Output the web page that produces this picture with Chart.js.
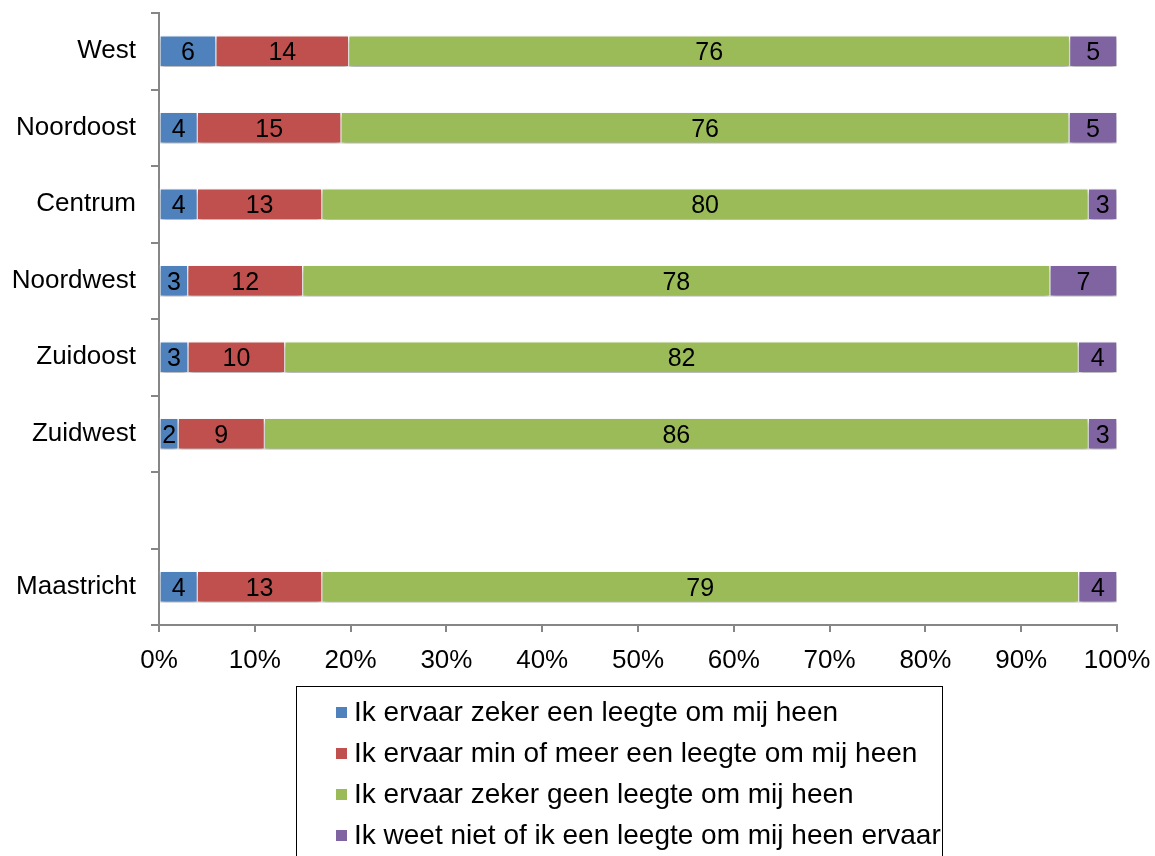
<!DOCTYPE html>
<html>
<head>
<meta charset="utf-8">
<script src="https://cdn.jsdelivr.net/npm/chart.js@4/dist/chart.umd.min.js"></script>
<style>
  html, body { margin: 0; padding: 0; background: #fff; }
  #wrap { width: 1155px; height: 856px; }
</style>
</head>
<body>
<div id="wrap"><canvas id="chart" width="1155" height="856"></canvas></div>
<script>
const categories = ['West', 'Noordoost', 'Centrum', 'Noordwest', 'Zuidoost', 'Zuidwest', '', 'Maastricht'];
const zekerWel = [6, 4, 4, 3, 3, 2, null, 4];
const minOfMeer = [14, 15, 13, 12, 10, 9, null, 13];
const zekerGeen = [76, 76, 80, 78, 82, 86, null, 79];
const weetNiet = [5, 5, 3, 7, 4, 3, null, 4];
const seriesNames = [
    'Ik ervaar zeker een leegte om mij heen',
    'Ik ervaar min of meer een leegte om mij heen',
    'Ik ervaar zeker geen leegte om mij heen',
    'Ik weet niet of ik een leegte om mij heen ervaar'
];
const colors = ['#4F81BD', '#C0504D', '#9BBB59', '#8064A2'];
const xTicks = [0, 10, 20, 30, 40, 50, 60, 70, 80, 90, 100];

const raw = [zekerWel, minOfMeer, zekerGeen, weetNiet];
// 100% stacked: each row scaled to its own total
const totals = categories.map((c, i) => raw.reduce((s, arr) => s + (arr[i] || 0), 0));

const FONT = 'Arial, "Liberation Sans", sans-serif';

const barLabels = {
    id: 'barLabels',
    afterDatasetsDraw(chart) {
        const ctx = chart.ctx;
        ctx.save();
        ctx.font = '25px ' + FONT;
        ctx.fillStyle = '#000';
        ctx.textAlign = 'center';
        ctx.textBaseline = 'middle';
        chart.data.datasets.forEach((ds, di) => {
            chart.getDatasetMeta(di).data.forEach((bar, i) => {
                const v = raw[di][i];
                if (v == null) return;
                const cx = (bar.x + bar.base) / 2;
                ctx.fillText(String(v), cx, bar.y + 2);
            });
        });
        ctx.restore();
    }
};

const barShadow = {
    id: 'barShadow',
    beforeDatasetsDraw(chart) {
        const ctx = chart.ctx;
        ctx.save();
        ctx.shadowColor = 'rgba(0,0,0,0.35)';
        ctx.shadowBlur = 5;
        ctx.shadowOffsetY = 3;
    },
    afterDatasetsDraw(chart) {
        chart.ctx.restore();
    }
};

const boxLegend = {
    id: 'boxLegend',
    afterDraw(chart) {
        const ctx = chart.ctx;
        ctx.save();
        ctx.strokeStyle = '#000';
        ctx.lineWidth = 1;
        ctx.strokeRect(296.5, 686.5, 646, 200);
        ctx.font = '28px ' + FONT;
        ctx.textBaseline = 'middle';
        ctx.textAlign = 'left';
        seriesNames.forEach((name, i) => {
            const y = 712 + i * 41;
            ctx.fillStyle = colors[i];
            ctx.fillRect(336, y - 5, 11, 11);
            ctx.fillStyle = '#000';
            ctx.fillText(name, 354, y + 1);
        });
        ctx.restore();
    }
};

new Chart(document.getElementById('chart').getContext('2d'), {
    type: 'bar',
    data: {
        labels: categories,
        datasets: raw.map((arr, di) => ({
            label: seriesNames[di],
            data: arr.map((v, i) => v == null ? null : v / totals[i] * 100),
            backgroundColor: colors[di],
            borderColor: '#fff',
            borderWidth: 1,
            borderSkipped: false,
            barThickness: 31
        }))
    },
    options: {
        indexAxis: 'y',
        responsive: false,
        animation: false,
        layout: { padding: { top: 13, right: 38, left: 0, bottom: 0 } },
        plugins: {
            legend: { display: false },
            tooltip: { enabled: false }
        },
        scales: {
            x: {
                stacked: true,
                min: 0,
                max: 100,
                afterFit(scale) {
                    scale.height = 231;
                    scale.paddingLeft = 0;
                    scale.paddingRight = 0;
                },
                afterBuildTicks(scale) { scale.ticks = xTicks.map(v => ({ value: v })); },
                ticks: {
                    callback: v => v + '%',
                    font: { family: FONT, size: 26 },
                    color: '#000',
                    padding: 13,
                    maxRotation: 0
                },
                grid: { drawOnChartArea: false, color: '#868686', tickLength: 7, lineWidth: 2 },
                border: { color: '#868686', width: 2 }
            },
            y: {
                stacked: true,
                afterFit(scale) {
                    scale.width = 159;
                    scale.paddingTop = 0;
                    scale.paddingBottom = 0;
                },
                ticks: {
                    font: { family: FONT, size: 26 },
                    color: '#000',
                    padding: 15
                },
                grid: { drawOnChartArea: false, color: '#868686', tickLength: 8, offset: true, lineWidth: 2 },
                border: { color: '#868686', width: 2 }
            }
        }
    },
    plugins: [barShadow, barLabels, boxLegend]
});
</script>
</body>
</html>
